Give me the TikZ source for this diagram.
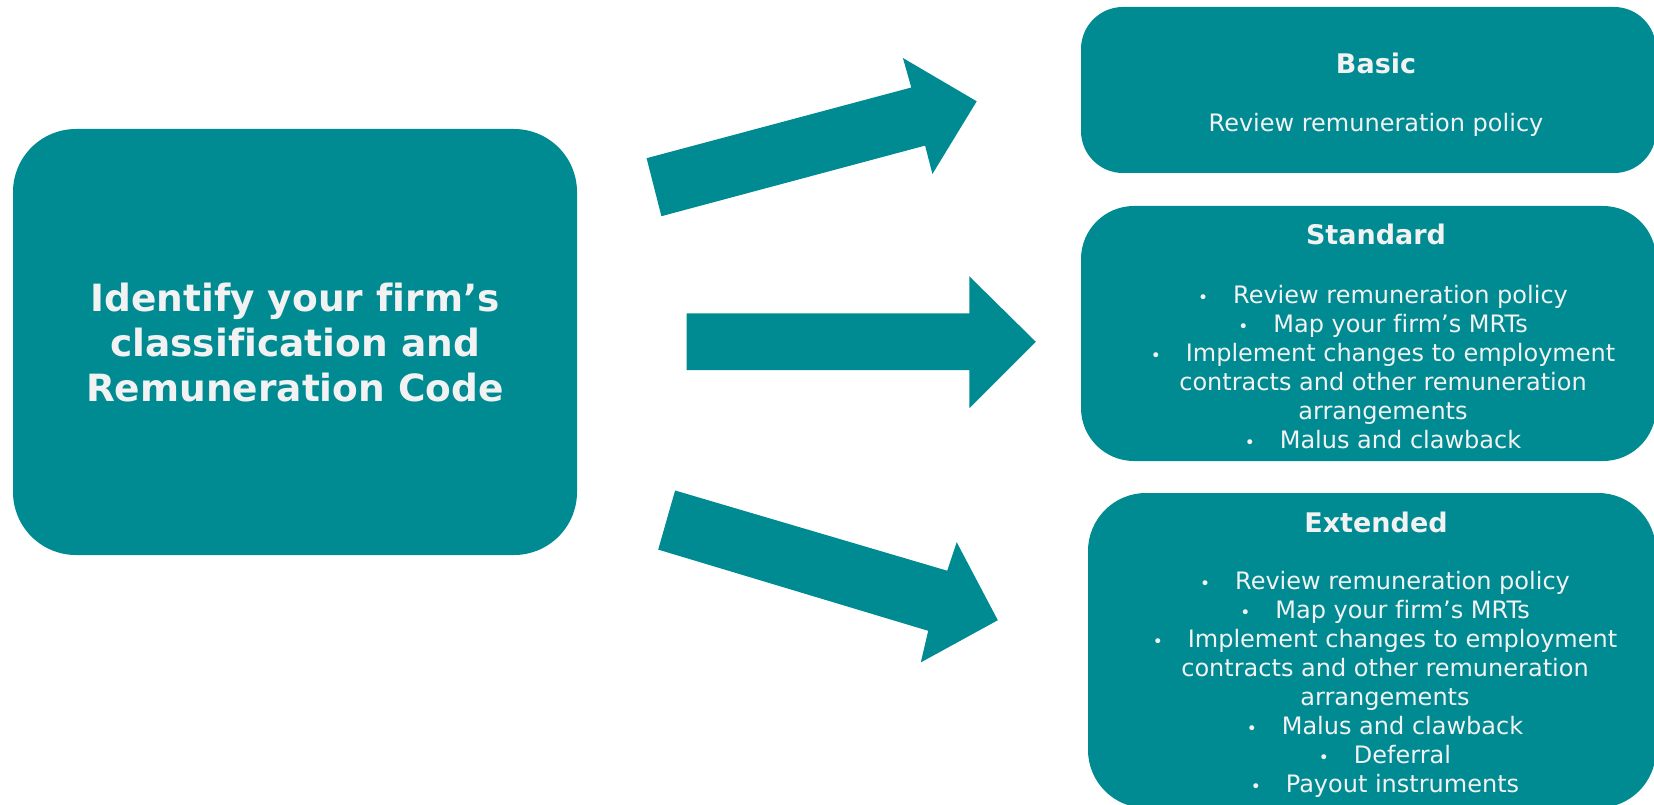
\documentclass[tikz,border=0pt]{standalone}
\usepackage{fontspec}
\setmainfont[Ligatures=NoCommon]{DejaVu Sans}
\definecolor{teal1}{RGB}{0,139,147}
\definecolor{txt}{RGB}{242,242,242}
\tikzset{
 box/.style={fill=teal1, rounded corners=#1, inner sep=0pt},
 ttl/.style={text=txt, font=\fontsize{27}{32}\selectfont\bfseries},
 bdy/.style={text=txt, font=\fontsize{24}{29}\selectfont, align=center, inner sep=0pt},
 arr/.style={fill=teal1}
}
\newcommand{\bul}{{\fontsize{17}{17}\selectfont •}\hspace{25pt}}
\begin{document}
\begin{tikzpicture}[x=1pt,y=-1pt]
\useasboundingbox[fill=white] (0,0) rectangle (1654,805);
% left box
\node[box=63pt, minimum width=564pt, minimum height=426pt] (code) at (295,342) {};
\node[text=txt, font=\fontsize{37.5}{45}\selectfont\bfseries, align=center, inner sep=0pt] (codet) at (295,343) {Identify your firm’s\\classification and\\Remuneration Code};
% right boxes
\node[box=42pt, minimum width=575pt, minimum height=166pt] (basic) at (1368.5,90) {};
\node[ttl] (basict) at (1376,63) {Basic};
\node[bdy] (basicb) at (1376,125) {Review remuneration policy};
\node[box=53pt, minimum width=575pt, minimum height=255pt] (std) at (1368.5,333.5) {};
\node[ttl] (stdt) at (1376,234) {Standard};
\node[bdy] (stdb) at (1383,367.5) {\bul Review remuneration policy\\ \bul Map your firm’s MRTs\\ \bul Implement changes to employment\\ contracts and other remuneration\\ arrangements\\ \bul Malus and clawback};
\node[box=58pt, minimum width=568pt, minimum height=315pt] (ext) at (1372,650.5) {};
\node[ttl] (extt) at (1376,522) {Extended};
\node[bdy] (extb) at (1385,684.5) {\bul Review remuneration policy\\ \bul Map your firm’s MRTs\\ \bul Implement changes to employment\\ contracts and other remuneration\\ arrangements\\ \bul Malus and clawback\\ \bul Deferral\\ \bul Payout instruments};
% block arrows
\fill[arr] (646.6,158.2) -- (911.3,87.5) -- (902.9,58.0) -- (976.7,101.3) -- (932.4,174.0) -- (925.1,145.6) -- (661.4,216.2) -- cycle;
\fill[arr] (686.7,313.3) -- (969.4,313.3) -- (969.4,276.4) -- (1035.8,341.8) -- (969.4,408.2) -- (969.4,370.2) -- (686.7,370.2) -- cycle;
\fill[arr] (675.1,490.5) -- (947.2,570.7) -- (956.7,542.2) -- (997.8,620.2) -- (920.8,662.4) -- (928.2,630.8) -- (658.2,549.6) -- cycle;
\end{tikzpicture}
\end{document}
